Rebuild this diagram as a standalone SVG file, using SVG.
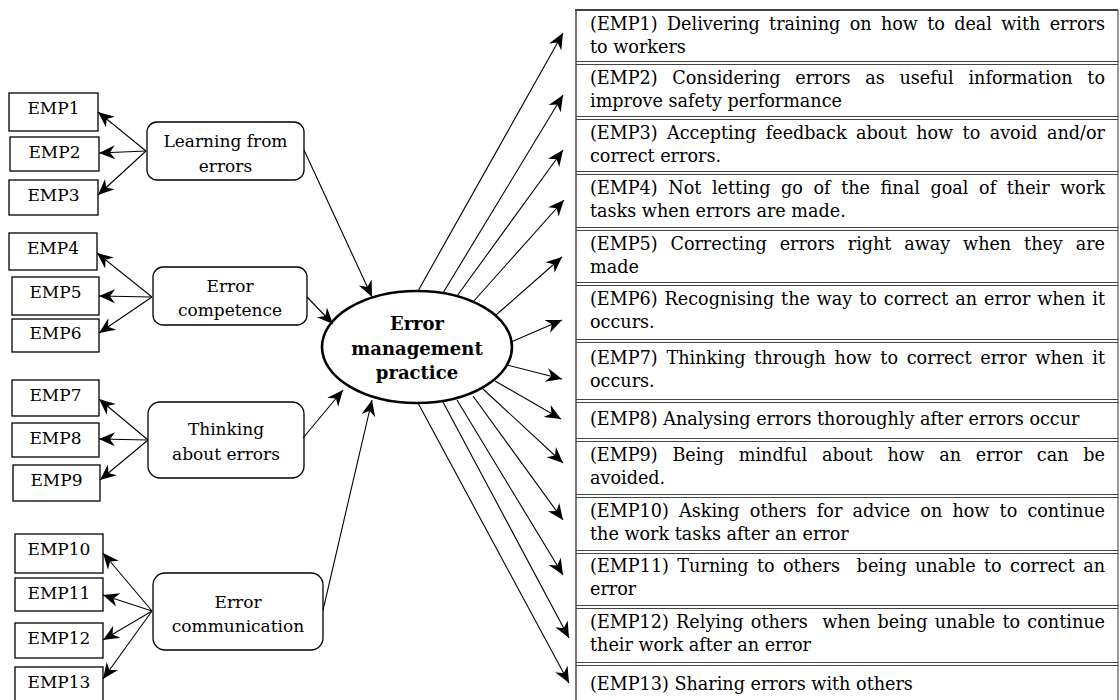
<svg xmlns="http://www.w3.org/2000/svg" width="1120" height="700" viewBox="0 0 1120 700">
  <style>
    .box { fill: #fff; stroke: #000; stroke-width: 1.3; }
    .node { fill: #fff; stroke: #000; stroke-width: 1.3; }
    .core { fill: #fff; stroke: #000; stroke-width: 2.6; }
    .lbl { font-family: "DejaVu Serif", "Liberation Serif", serif; font-size: 17px; fill: #000; text-anchor: middle; }
    .core-t { font-family: "DejaVu Serif", "Liberation Serif", serif; font-size: 18px; font-weight: bold; fill: #000; text-anchor: middle; }
    .row { font-family: "DejaVu Serif", "Liberation Serif", serif; font-size: 17.6px; fill: #000; white-space: pre; }
    .sep { stroke: #444; stroke-width: 1; }
    .edge { stroke: #000; stroke-width: 1.1; fill: none; marker-end: url(#arr); }
  </style>
  <defs>
    <marker id="arr" markerUnits="userSpaceOnUse" markerWidth="17" markerHeight="15" viewBox="-17 -7.5 17 15" refX="0" refY="0" orient="auto">
      <path d="M0,0 L-16,-7 L-11,0 L-16,7 Z" fill="#000"/>
    </marker>
  </defs>
  <rect width="1120" height="700" fill="#fff"/>

  <!-- item boxes on the left -->
  <g id="emp1"><rect class="box" x="9" y="93" width="89" height="38"/><text class="lbl" x="53.5" y="114">EMP1</text></g>
  <g id="emp2"><rect class="box" x="10" y="137" width="89" height="34"/><text class="lbl" x="54.5" y="158">EMP2</text></g>
  <g id="emp3"><rect class="box" x="9" y="180" width="89" height="35"/><text class="lbl" x="53.5" y="201">EMP3</text></g>
  <g id="emp4"><rect class="box" x="9" y="233" width="88" height="37"/><text class="lbl" x="53" y="254">EMP4</text></g>
  <g id="emp5"><rect class="box" x="12" y="277" width="87" height="38"/><text class="lbl" x="55.5" y="298">EMP5</text></g>
  <g id="emp6"><rect class="box" x="12" y="319" width="87" height="33"/><text class="lbl" x="55.5" y="339">EMP6</text></g>
  <g id="emp7"><rect class="box" x="12" y="380" width="87" height="36"/><text class="lbl" x="55.5" y="401">EMP7</text></g>
  <g id="emp8"><rect class="box" x="12" y="423" width="87" height="34"/><text class="lbl" x="55.5" y="444">EMP8</text></g>
  <g id="emp9"><rect class="box" x="13" y="465" width="87" height="36"/><text class="lbl" x="56.5" y="486">EMP9</text></g>
  <g id="emp10"><rect class="box" x="15" y="534" width="88" height="39"/><text class="lbl" x="59" y="555">EMP10</text></g>
  <g id="emp11"><rect class="box" x="15" y="578" width="88" height="33"/><text class="lbl" x="59" y="599">EMP11</text></g>
  <g id="emp12"><rect class="box" x="15" y="623" width="88" height="35"/><text class="lbl" x="59" y="644">EMP12</text></g>
  <g id="emp13"><rect class="box" x="15" y="667" width="88" height="40"/><text class="lbl" x="59" y="688">EMP13</text></g>

  <!-- factor nodes -->
  <g id="learning"><rect class="node" x="147" y="122" width="157" height="58" rx="10"/><text class="lbl" x="225.5" y="147">Learning from</text><text class="lbl" x="225.5" y="172">errors</text></g>
  <g id="competence"><rect class="node" x="153" y="267" width="154" height="58" rx="10"/><text class="lbl" x="230" y="292">Error</text><text class="lbl" x="230" y="316">competence</text></g>
  <g id="thinking"><rect class="node" x="148" y="402" width="156" height="76" rx="12"/><text class="lbl" x="226" y="435">Thinking</text><text class="lbl" x="226" y="460">about errors</text></g>
  <g id="communication"><rect class="node" x="153" y="573" width="170" height="77" rx="12"/><text class="lbl" x="238" y="608">Error</text><text class="lbl" x="238" y="632">communication</text></g>

  <!-- central construct -->
  <g id="practice">
    <ellipse class="core" cx="417" cy="347" rx="95" ry="56"/>
    <text class="core-t" x="417" y="330">Error</text>
    <text class="core-t" x="417" y="355">management</text>
    <text class="core-t" x="417" y="379">practice</text>
  </g>

  <!-- item descriptions table: justified first lines use word spacing -->
  <g id="table">
    <line x1="575" y1="10" x2="1118" y2="10" stroke="#000" stroke-width="1.6"/>
    <line x1="576" y1="10" x2="576" y2="700" stroke="#555" stroke-width="1.6"/>
    <line x1="1118" y1="10" x2="1118" y2="700" stroke="#555" stroke-width="1.2"/>
    <g class="seps">
      <line class="sep" x1="576" y1="61.5" x2="1118" y2="61.5"/><line class="sep" x1="576" y1="64.5" x2="1118" y2="64.5"/>
      <line class="sep" x1="576" y1="116.5" x2="1118" y2="116.5"/><line class="sep" x1="576" y1="119.5" x2="1118" y2="119.5"/>
      <line class="sep" x1="576" y1="171.5" x2="1118" y2="171.5"/><line class="sep" x1="576" y1="174.5" x2="1118" y2="174.5"/>
      <line class="sep" x1="576" y1="227.5" x2="1118" y2="227.5"/><line class="sep" x1="576" y1="230.5" x2="1118" y2="230.5"/>
      <line class="sep" x1="576" y1="282.5" x2="1118" y2="282.5"/><line class="sep" x1="576" y1="285.5" x2="1118" y2="285.5"/>
      <line class="sep" x1="576" y1="339.5" x2="1118" y2="339.5"/><line class="sep" x1="576" y1="342.5" x2="1118" y2="342.5"/>
      <line class="sep" x1="576" y1="399.5" x2="1118" y2="399.5"/><line class="sep" x1="576" y1="402.5" x2="1118" y2="402.5"/>
      <line class="sep" x1="576" y1="438.5" x2="1118" y2="438.5"/><line class="sep" x1="576" y1="441.5" x2="1118" y2="441.5"/>
      <line class="sep" x1="576" y1="494.5" x2="1118" y2="494.5"/><line class="sep" x1="576" y1="497.5" x2="1118" y2="497.5"/>
      <line class="sep" x1="576" y1="550.5" x2="1118" y2="550.5"/><line class="sep" x1="576" y1="553.5" x2="1118" y2="553.5"/>
      <line class="sep" x1="576" y1="605.5" x2="1118" y2="605.5"/><line class="sep" x1="576" y1="608.5" x2="1118" y2="608.5"/>
      <line class="sep" x1="576" y1="662.5" x2="1118" y2="662.5"/><line class="sep" x1="576" y1="665.5" x2="1118" y2="665.5"/>
    </g>
    <text class="row" x="590" y="30" word-spacing="3.7" textLength="515" lengthAdjust="spacing">(EMP1) Delivering training on how to deal with errors</text>
    <text class="row" x="590" y="53">to workers</text>
    <text class="row" x="590" y="84" word-spacing="9.2" textLength="515" lengthAdjust="spacing">(EMP2) Considering errors as useful information to</text>
    <text class="row" x="590" y="107">improve safety performance</text>
    <text class="row" x="590" y="139" word-spacing="3.9" textLength="515" lengthAdjust="spacing">(EMP3) Accepting feedback about how to avoid and/or</text>
    <text class="row" x="590" y="162">correct errors.</text>
    <text class="row" x="590" y="194" word-spacing="5.0" textLength="515" lengthAdjust="spacing">(EMP4) Not letting go of the final goal of their work</text>
    <text class="row" x="590" y="217">tasks when errors are made.</text>
    <text class="row" x="590" y="250" word-spacing="7.3" textLength="515" lengthAdjust="spacing">(EMP5) Correcting errors right away when they are</text>
    <text class="row" x="590" y="273">made</text>
    <text class="row" x="590" y="305" word-spacing="1.3" textLength="515" lengthAdjust="spacing">(EMP6) Recognising the way to correct an error when it</text>
    <text class="row" x="590" y="328">occurs.</text>
    <text class="row" x="590" y="364" word-spacing="3.1" textLength="515" lengthAdjust="spacing">(EMP7) Thinking through how to correct error when it</text>
    <text class="row" x="590" y="387">occurs.</text>
    <text class="row" x="590" y="425">(EMP8) Analysing errors thoroughly after errors occur</text>
    <text class="row" x="590" y="461" word-spacing="9.2" textLength="515" lengthAdjust="spacing">(EMP9) Being mindful about how an error can be</text>
    <text class="row" x="590" y="484">avoided.</text>
    <text class="row" x="590" y="517" word-spacing="4.6" textLength="515" lengthAdjust="spacing">(EMP10) Asking others for advice on how to continue</text>
    <text class="row" x="590" y="540">the work tasks after an error</text>
    <text class="row" x="590" y="572" word-spacing="2.7" textLength="515" lengthAdjust="spacing">(EMP11) Turning to others  being unable to correct an</text>
    <text class="row" x="590" y="595">error</text>
    <text class="row" x="590" y="628" word-spacing="1.6" textLength="515" lengthAdjust="spacing">(EMP12) Relying others  when being unable to continue</text>
    <text class="row" x="590" y="651">their work after an error</text>
    <text class="row" x="590" y="690">(EMP13) Sharing errors with others</text>
  </g>

  <!-- connectors -->
  <g id="connectors">
    <!-- factors to their items -->
    <line class="edge" x1="146" y1="151" x2="98" y2="112"/>
    <line class="edge" x1="146" y1="151" x2="99" y2="153"/>
    <line class="edge" x1="146" y1="151" x2="98" y2="195"/>
    <line class="edge" x1="152" y1="297" x2="97" y2="253"/>
    <line class="edge" x1="152" y1="297" x2="99" y2="296"/>
    <line class="edge" x1="152" y1="297" x2="99" y2="333"/>
    <line class="edge" x1="148" y1="440" x2="99" y2="399"/>
    <line class="edge" x1="148" y1="440" x2="99" y2="439"/>
    <line class="edge" x1="148" y1="440" x2="100" y2="480"/>
    <line class="edge" x1="152" y1="611" x2="103" y2="553"/>
    <line class="edge" x1="152" y1="611" x2="103" y2="595"/>
    <line class="edge" x1="152" y1="611" x2="103" y2="640"/>
    <line class="edge" x1="152" y1="611" x2="103" y2="679"/>
    <!-- factors to the central construct -->
    <line class="edge" x1="304" y1="150" x2="372" y2="297"/>
    <line class="edge" x1="307" y1="297" x2="333" y2="324"/>
    <line class="edge" x1="303" y1="438" x2="343" y2="390"/>
    <line class="edge" x1="323" y1="610" x2="372" y2="400"/>
    <!-- central construct to item descriptions -->
    <line class="edge" x1="418" y1="291" x2="563" y2="33"/>
    <line class="edge" x1="443" y1="293" x2="563" y2="95"/>
    <line class="edge" x1="457" y1="296" x2="563" y2="150"/>
    <line class="edge" x1="473" y1="302" x2="564" y2="200"/>
    <line class="edge" x1="496" y1="315" x2="562" y2="257"/>
    <line class="edge" x1="511" y1="342" x2="562" y2="320"/>
    <line class="edge" x1="507" y1="365" x2="562" y2="379"/>
    <line class="edge" x1="495" y1="381" x2="561" y2="419"/>
    <line class="edge" x1="483" y1="389" x2="563" y2="463"/>
    <line class="edge" x1="473" y1="396" x2="563" y2="520"/>
    <line class="edge" x1="457" y1="400" x2="563" y2="575"/>
    <line class="edge" x1="443" y1="402" x2="569" y2="638"/>
    <line class="edge" x1="418" y1="403" x2="569" y2="683"/>
  </g>
</svg>
